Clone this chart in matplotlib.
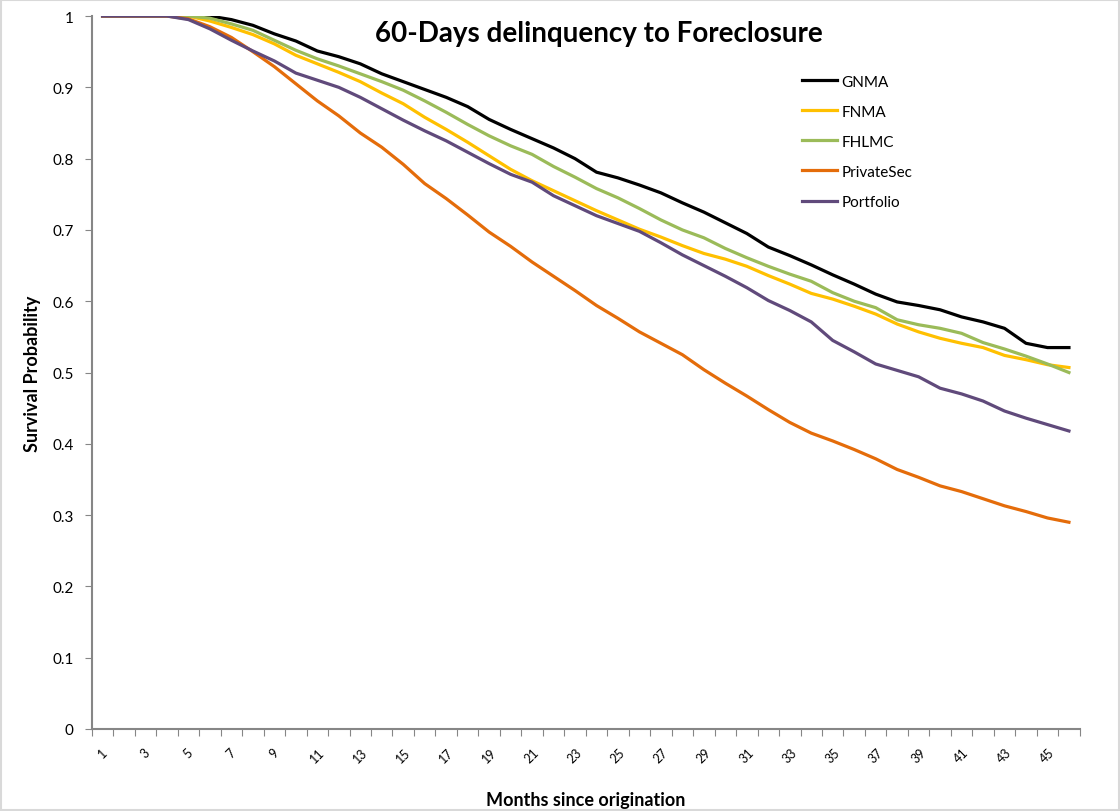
import numpy as np
import matplotlib.pyplot as plt
from matplotlib.patches import Rectangle

plt.rcParams['font.family'] = ['Lato', 'DejaVu Sans']

# Survival curves, months 1..46
months = list(range(1, 47))

gnma = [1, 1, 1, 1, 1, 1, 0.995, 0.987, 0.975, 0.965,
        0.951, 0.943, 0.933, 0.919, 0.908, 0.897, 0.886, 0.873, 0.855, 0.841,
        0.828, 0.815, 0.8, 0.781, 0.773, 0.763, 0.752, 0.738, 0.725, 0.71,
        0.695, 0.676, 0.664, 0.651, 0.637, 0.624, 0.61, 0.599, 0.594, 0.588,
        0.578, 0.571, 0.562, 0.541, 0.535, 0.535]
fnma = [1, 1, 1, 1, 1, 0.993, 0.984, 0.974, 0.961, 0.945,
        0.933, 0.921, 0.908, 0.892, 0.877, 0.858, 0.841, 0.823, 0.804, 0.785,
        0.769, 0.755, 0.741, 0.727, 0.714, 0.701, 0.69, 0.678, 0.667, 0.659,
        0.649, 0.636, 0.624, 0.611, 0.603, 0.593, 0.582, 0.568, 0.557, 0.548,
        0.541, 0.535, 0.524, 0.518, 0.511, 0.507]
fhlmc = [1, 1, 1, 1, 1, 0.997, 0.989, 0.98, 0.966, 0.952,
         0.94, 0.93, 0.919, 0.908, 0.896, 0.881, 0.865, 0.848, 0.832, 0.818,
         0.806, 0.789, 0.774, 0.758, 0.745, 0.73, 0.714, 0.7, 0.689, 0.674,
         0.661, 0.649, 0.638, 0.628, 0.612, 0.6, 0.591, 0.574, 0.567, 0.562,
         0.555, 0.542, 0.533, 0.523, 0.512, 0.5]
private_sec = [1, 1, 1, 1, 0.996, 0.985, 0.97, 0.95, 0.929, 0.905,
               0.881, 0.86, 0.836, 0.816, 0.792, 0.765, 0.744, 0.721, 0.697, 0.677,
               0.655, 0.635, 0.615, 0.594, 0.576, 0.557, 0.541, 0.525, 0.504, 0.485,
               0.467, 0.448, 0.43, 0.415, 0.404, 0.392, 0.379, 0.364, 0.353, 0.341,
               0.333, 0.323, 0.313, 0.305, 0.296, 0.29]
portfolio = [1, 1, 1, 1, 0.995, 0.982, 0.966, 0.951, 0.937, 0.92,
             0.91, 0.9, 0.886, 0.87, 0.854, 0.839, 0.825, 0.809, 0.793, 0.778,
             0.767, 0.748, 0.734, 0.72, 0.709, 0.698, 0.682, 0.665, 0.65, 0.635,
             0.619, 0.601, 0.587, 0.571, 0.545, 0.529, 0.512, 0.503, 0.494, 0.478,
             0.47, 0.46, 0.446, 0.436, 0.427, 0.418]

series = [('GNMA', gnma, '#000000'),
          ('FNMA', fnma, '#FFC000'),
          ('FHLMC', fhlmc, '#9BBB59'),
          ('PrivateSec', private_sec, '#E46C0A'),
          ('Portfolio', portfolio, '#604A7B')]

fig = plt.figure(figsize=(11.2, 8.12), dpi=100)
ax = fig.add_axes([0.082, 0.101, 0.882, 0.878])

for name, vals, col in series:
    ax.plot(months, vals, color=col, lw=2.3, label=name, solid_joinstyle='round')

ax.set_xlim(0.5, 46.5)
ax.set_ylim(0, 1)

# category axis: tick marks between categories, labels on odd months
ax.set_xticks(np.arange(0.5, 47, 1))
ax.set_xticklabels([])
ax.set_xticks(months[::2], minor=True)
ax.set_xticklabels([str(m) for m in months[::2]], minor=True, rotation=45,
                   fontsize=9, ha='center', va='top')
ax.tick_params(axis='x', which='major', length=5, color='#868686', direction='out')
ax.tick_params(axis='x', which='minor', length=0, pad=12)

yt = np.arange(0, 1.01, 0.1)
ax.set_yticks(yt)
ax.set_yticklabels(['0' if v == 0 else ('1' if v == 1 else '%.1f' % v) for v in yt],
                   fontsize=11)
ax.tick_params(axis='y', length=5, color='#868686', direction='out', pad=8)

for s in ['top', 'right']:
    ax.spines[s].set_visible(False)
for s in ['left', 'bottom']:
    ax.spines[s].set_color('#868686')
    ax.spines[s].set_linewidth(1.5)

ax.set_ylabel('Survival Probability', fontsize=13, fontweight='bold', labelpad=8)
ax.set_xlabel('Months since origination', fontsize=13, fontweight='bold', labelpad=19)

fig.text(0.535, 0.958, '60-Days delinquency to Foreclosure', fontsize=20,
         fontweight='bold', ha='center', va='center')

ax.legend(loc='upper left', bbox_to_anchor=(0.705, 0.937), frameon=False,
          fontsize=11, handlelength=2.3, handletextpad=0.3, labelspacing=1.05)

# chart area border
fig.patches.append(Rectangle((0.001, 0.001), 0.998, 0.998, transform=fig.transFigure,
                             fill=False, edgecolor='#d9d9d9', lw=1.5))

fig.savefig('out.png', dpi=100)
